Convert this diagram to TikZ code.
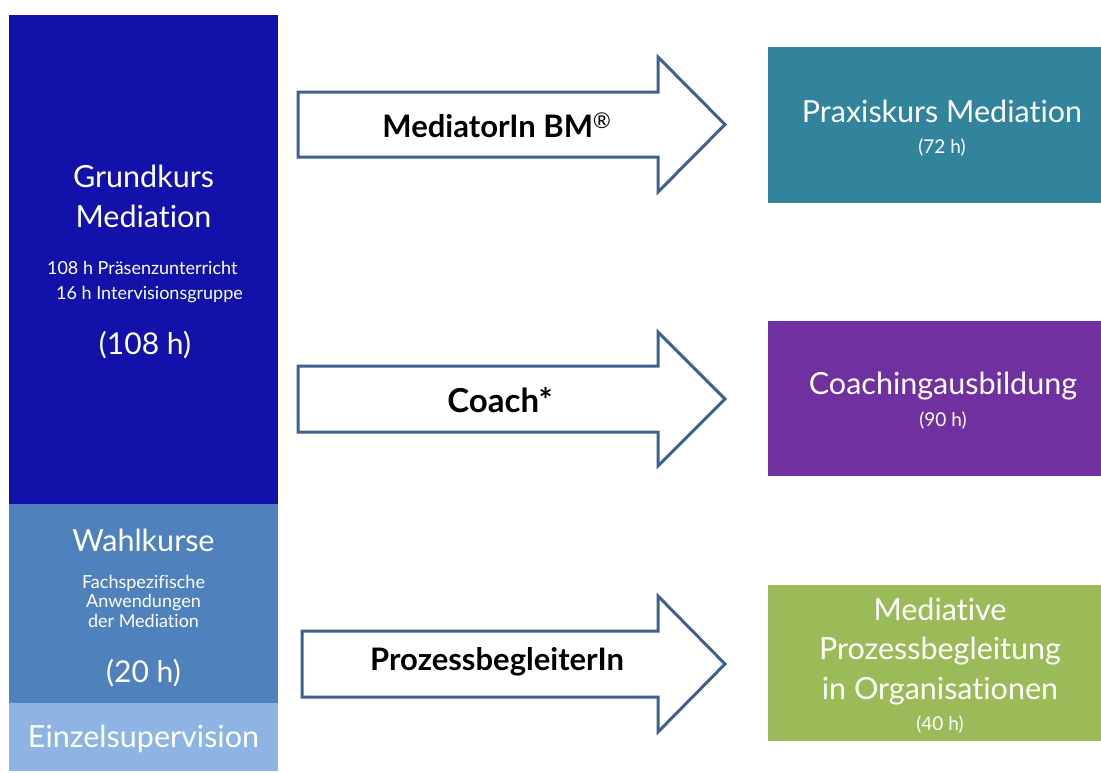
\documentclass[tikz,border=0pt]{standalone}
\usepackage{fontspec}
\setmainfont{Lato}[Ligatures=NoCommon]
\definecolor{cGrund}{HTML}{1212AA}
\definecolor{cWahl}{HTML}{4F81BD}
\definecolor{cEinzel}{HTML}{8EB4E3}
\definecolor{cPraxis}{HTML}{31849B}
\definecolor{cCoach}{HTML}{7030A0}
\definecolor{cProz}{HTML}{9BBB59}
\definecolor{cArrow}{HTML}{3F6190}
\begin{document}
\begin{tikzpicture}[x=1pt,y=-1pt,
  box/.style={rectangle,inner sep=0pt,outer sep=0pt,draw=none},
  wt/.style={text=white,inner sep=0pt,align=center},
  big/.style={font=\fontsize{30.5}{39.5}\selectfont},
  small/.style={font=\fontsize{18}{19.5}\selectfont},
  rsmall/.style={font=\fontsize{19}{22}\selectfont},
  hours/.style={font=\fontsize{30}{34}\selectfont},
  arrowshape/.style={draw=cArrow,line width=3pt,fill=white,line join=miter},
  alabel/.style={inner sep=0pt,font=\bfseries\fontsize{31}{34}\selectfont}]
\useasboundingbox (0,0) rectangle (1101,772);
% left column
\node[box,fill=cGrund,minimum width=269pt,minimum height=489pt] (grund) at (143.5,259.5) {};
\node[box,fill=cWahl,minimum width=269pt,minimum height=199pt] (wahl) at (143.5,603.5) {};
\node[box,fill=cEinzel,minimum width=269pt,minimum height=68pt] (einzel) at (143.5,737) {};
\node[wt,big] (g1) at (143.5,196.5) {Grundkurs\\Mediation};
\node[wt,small,align=left,font=\fontsize{18}{25}\selectfont] (g2) at (145,282.5) {108 h Präsenzunterricht\\\hspace*{9pt}16 h Intervisionsgruppe};
\node[wt,hours] (g3) at (145,345) {(108 h)};
\node[wt,big] (w1) at (143.5,540) {Wahlkurse};
\node[wt,small] (w2) at (143.5,601) {Fachspezifische\\Anwendungen\\der Mediation};
\node[wt,hours] (w3) at (143.5,673) {(20 h)};
\node[wt,big] (e1) at (143.5,739) {Einzelsupervision};
% right boxes
\node[box,fill=cPraxis,minimum width=333pt,minimum height=156pt] (praxis) at (934.5,125) {};
\node[box,fill=cCoach,minimum width=333pt,minimum height=155pt] (coach) at (934.5,398.5) {};
\node[box,fill=cProz,minimum width=333pt,minimum height=156pt] (proz) at (934.5,663) {};
\node[wt,big] (p1) at (942,111) {Praxiskurs Mediation};
\node[wt,rsmall] (p2) at (942,148) {(72 h)};
\node[wt,big] (c1) at (943,386) {Coachingausbildung};
\node[wt,rsmall] (c2) at (943,421) {(90 h)};
\node[wt,big] (m1) at (940,651.5) {Mediative\\Prozessbegleitung\\in Organisationen};
\node[wt,rsmall] (m2) at (940,725) {(40 h)};
% arrows
\draw[arrowshape] (298,92) -- (658,92) -- (658,57) -- (725,124.5) -- (658,192) -- (658,157) -- (298,157) -- cycle;
\draw[arrowshape] (298,366) -- (658,366) -- (658,332) -- (725,399) -- (658,466) -- (658,432) -- (298,432) -- cycle;
\draw[arrowshape] (302,631) -- (658,631) -- (658,596) -- (725,664) -- (658,732) -- (658,697) -- (302,697) -- cycle;
\node[alabel] (a1) at (497,125) {MediatorIn BM\textsuperscript{\normalfont ®}};
\node[alabel,font=\bfseries\fontsize{33}{36}\selectfont] (a2) at (500,400) {Coach*};
\node[alabel] (a3) at (497,662) {ProzessbegleiterIn};
\end{tikzpicture}
\end{document}
